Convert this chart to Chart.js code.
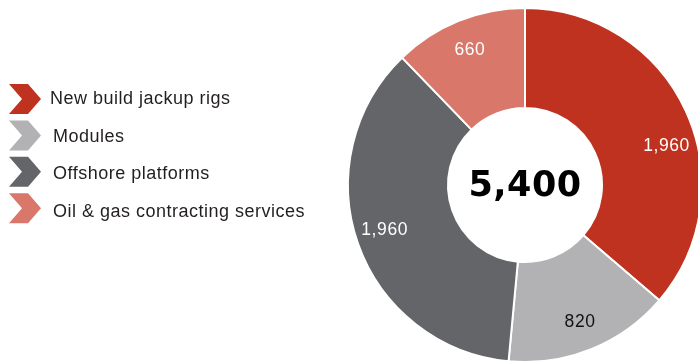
<!DOCTYPE html>
<html>
<head>
<meta charset="utf-8">
<script src="https://cdn.jsdelivr.net/npm/chart.js@4"></script>
<style>
    html, body { margin: 0; padding: 0; background: #fff; overflow: hidden; }
    #wrap { position: relative; width: 704px; height: 363px; }
</style>
</head>
<body>
<div id="wrap"><canvas id="mix"></canvas></div>
<script>
// Revenue mix by business line
const segments = ["New build jackup rigs", "Modules", "Offshore platforms", "Oil & gas contracting services"];
const amounts = [1960, 820, 1960, 660];
const colours = ["#bf321f", "#b2b2b4", "#646569", "#d8776a"];
const labelColours = ["#ffffff", "#111111", "#ffffff", "#ffffff"];
const totalLabel = "5,400";

const fmt = v => v.toLocaleString("en-US");

// Values written inside each ring segment, plus the total in the hole
const arcLabels = {
    id: "arcLabels",
    afterDatasetsDraw(chart, args, opts) {
        const { ctx } = chart;
        const meta = chart.getDatasetMeta(0);
        ctx.save();
        ctx.textAlign = "center";
        ctx.textBaseline = "middle";
        ctx.font = "17.5px 'Liberation Sans', Arial, sans-serif";
        ctx.letterSpacing = "0.6px";
        meta.data.forEach((arc, i) => {
            const { x, y, startAngle, endAngle, innerRadius, outerRadius } = arc.getProps(
                ["x", "y", "startAngle", "endAngle", "innerRadius", "outerRadius"], true);
            const mid = (startAngle + endAngle) / 2 + (opts.shift[i] || 0) * Math.PI / 180;
            const r = innerRadius + (outerRadius - innerRadius) * 0.7;
            ctx.fillStyle = labelColours[i];
            ctx.fillText(fmt(amounts[i]), x + Math.cos(mid) * r, y + Math.sin(mid) * r + 1);
        });
        const c = meta.data[0];
        ctx.fillStyle = "#000";
        ctx.letterSpacing = "0.5px";
        ctx.font = "bold 35px 'DejaVu Sans', Arial, sans-serif";
        ctx.fillText(totalLabel, c.x, c.y + 2);
        ctx.restore();
    }
};

// Chevron-marked legend on the left
const chevronLegend = {
    id: "chevronLegend",
    afterDraw(chart) {
        const { ctx } = chart;
        const w = 32, h = 30;
        ctx.save();
        segments.forEach((name, i) => {
            const x0 = 9, y0 = 84 + i * 36.4;
            ctx.fillStyle = colours[i];
            ctx.beginPath();
            ctx.moveTo(x0, y0);
            ctx.lineTo(x0 + 19, y0);
            ctx.lineTo(x0 + w, y0 + h / 2);
            ctx.lineTo(x0 + 19, y0 + h);
            ctx.lineTo(x0, y0 + h);
            ctx.lineTo(x0 + 13, y0 + h / 2);
            ctx.closePath();
            ctx.fill();
            ctx.fillStyle = "#231f20";
            ctx.font = "18px 'Liberation Sans', Arial, sans-serif";
            ctx.letterSpacing = "0.5px";
            ctx.textBaseline = "middle";
            ctx.fillText(name, i === 0 ? 50 : 53, 99 + i * 37.6);
        });
        ctx.restore();
    }
};

new Chart(document.getElementById("mix"), {
    type: "doughnut",
    data: {
        labels: segments,
        datasets: [{
            data: amounts,
            backgroundColor: colours,
            borderColor: "#ffffff",
            borderWidth: 2
        }]
    },
    options: {
        responsive: true,
        maintainAspectRatio: false,
        animation: false,
        cutout: "43.5%",
        layout: { padding: { left: 346, top: 7, right: 0, bottom: 0 } },
        plugins: {
            legend: { display: false },
            tooltip: { enabled: false },
            arcLabels: { shift: [9, 0, 2, 0] }
        }
    },
    plugins: [arcLabels, chevronLegend]
});
</script>
</body>
</html>
